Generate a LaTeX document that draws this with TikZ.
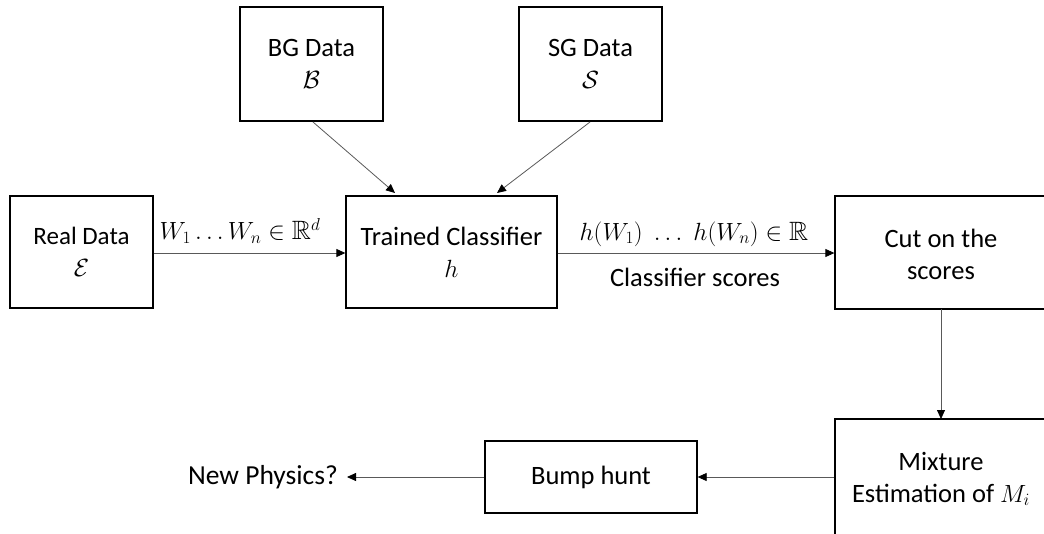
\documentclass[tikz,border=0pt]{standalone}
\usepackage{fontspec}
\usepackage{amssymb}
\setmainfont{Carlito}
\usetikzlibrary{arrows.meta}
\begin{document}
\begin{tikzpicture}[x=1pt,y=-1pt,
  box/.style={draw=black,line width=1.3pt,minimum width=#1,inner sep=0pt,align=center,font=\fontsize{26.5}{32}\selectfont},
  conn/.style={draw=black!65,line width=0.8pt,-{Triangle[length=9pt,width=8pt,color=black]}},
  lbl/.style={font=\fontsize{26.5}{32}\selectfont,inner sep=0pt}]
\useasboundingbox (0,0) rectangle (1044,533);
\clip (0,0) rectangle (1044,533);
\node[box=143pt,minimum height=112pt,font=\fontsize{25}{32}\selectfont] (real) at (81.5,252) {Real Data\\$\mathcal{E}$};
\node[box=211pt,minimum height=112pt] (tc) at (451.5,252) {Trained Classifier\\$h$};
\node[box=220pt,minimum height=113pt] (cut) at (945,252.5) {};
\node[lbl,align=center] (cuttext) at (941,254) {Cut on the\\scores};
\node[box=143pt,minimum height=114pt] (bg) at (311.5,64) {BG Data\\$\mathcal{B}$};
\node[box=143pt,minimum height=114pt] (sg) at (590.5,64) {SG Data\\$\mathcal{S}$};
\node[box=220pt,minimum height=150pt] (mix) at (945,494) {};
\node[lbl,align=center] (mixtext) at (941,479) {Mixture\\Estimation of $M_i$};
\node[box=212pt,minimum height=72pt] (bump) at (591,477) {Bump hunt};
\node[lbl,anchor=east,font=\fontsize{27.5}{32}\selectfont] (np) at (338,477) {New Physics?};
\coordinate (bgtip) at (395,193);
\coordinate (sgtip) at (497,193);
\draw[conn] (313,122) -- (bgtip);
\draw[conn] (590,122) -- (sgtip);
\draw[conn] (real.east |- 0,253) -- (tc.west |- 0,253);
\draw[conn] (tc.east |- 0,253) -- (cut.west |- 0,253);
\draw[conn] (941,309) -- (941,419);
\draw[conn] (mix.west |- 0,477) -- (bump.east |- 0,477);
\draw[conn] (bump.west |- 0,477) -- ([xshift=9pt]np.east);
\node[lbl] (wlab) at (240,231) {$W_1 \ldots W_n \in \mathbb{R}^d$};
\node[lbl] (hlab) at (694,234) {$h(W_1)\;\ldots\; h(W_n) \in \mathbb{R}$};
\node[lbl] (cs) at (695,277) {Classifier scores};
\end{tikzpicture}
\end{document}
